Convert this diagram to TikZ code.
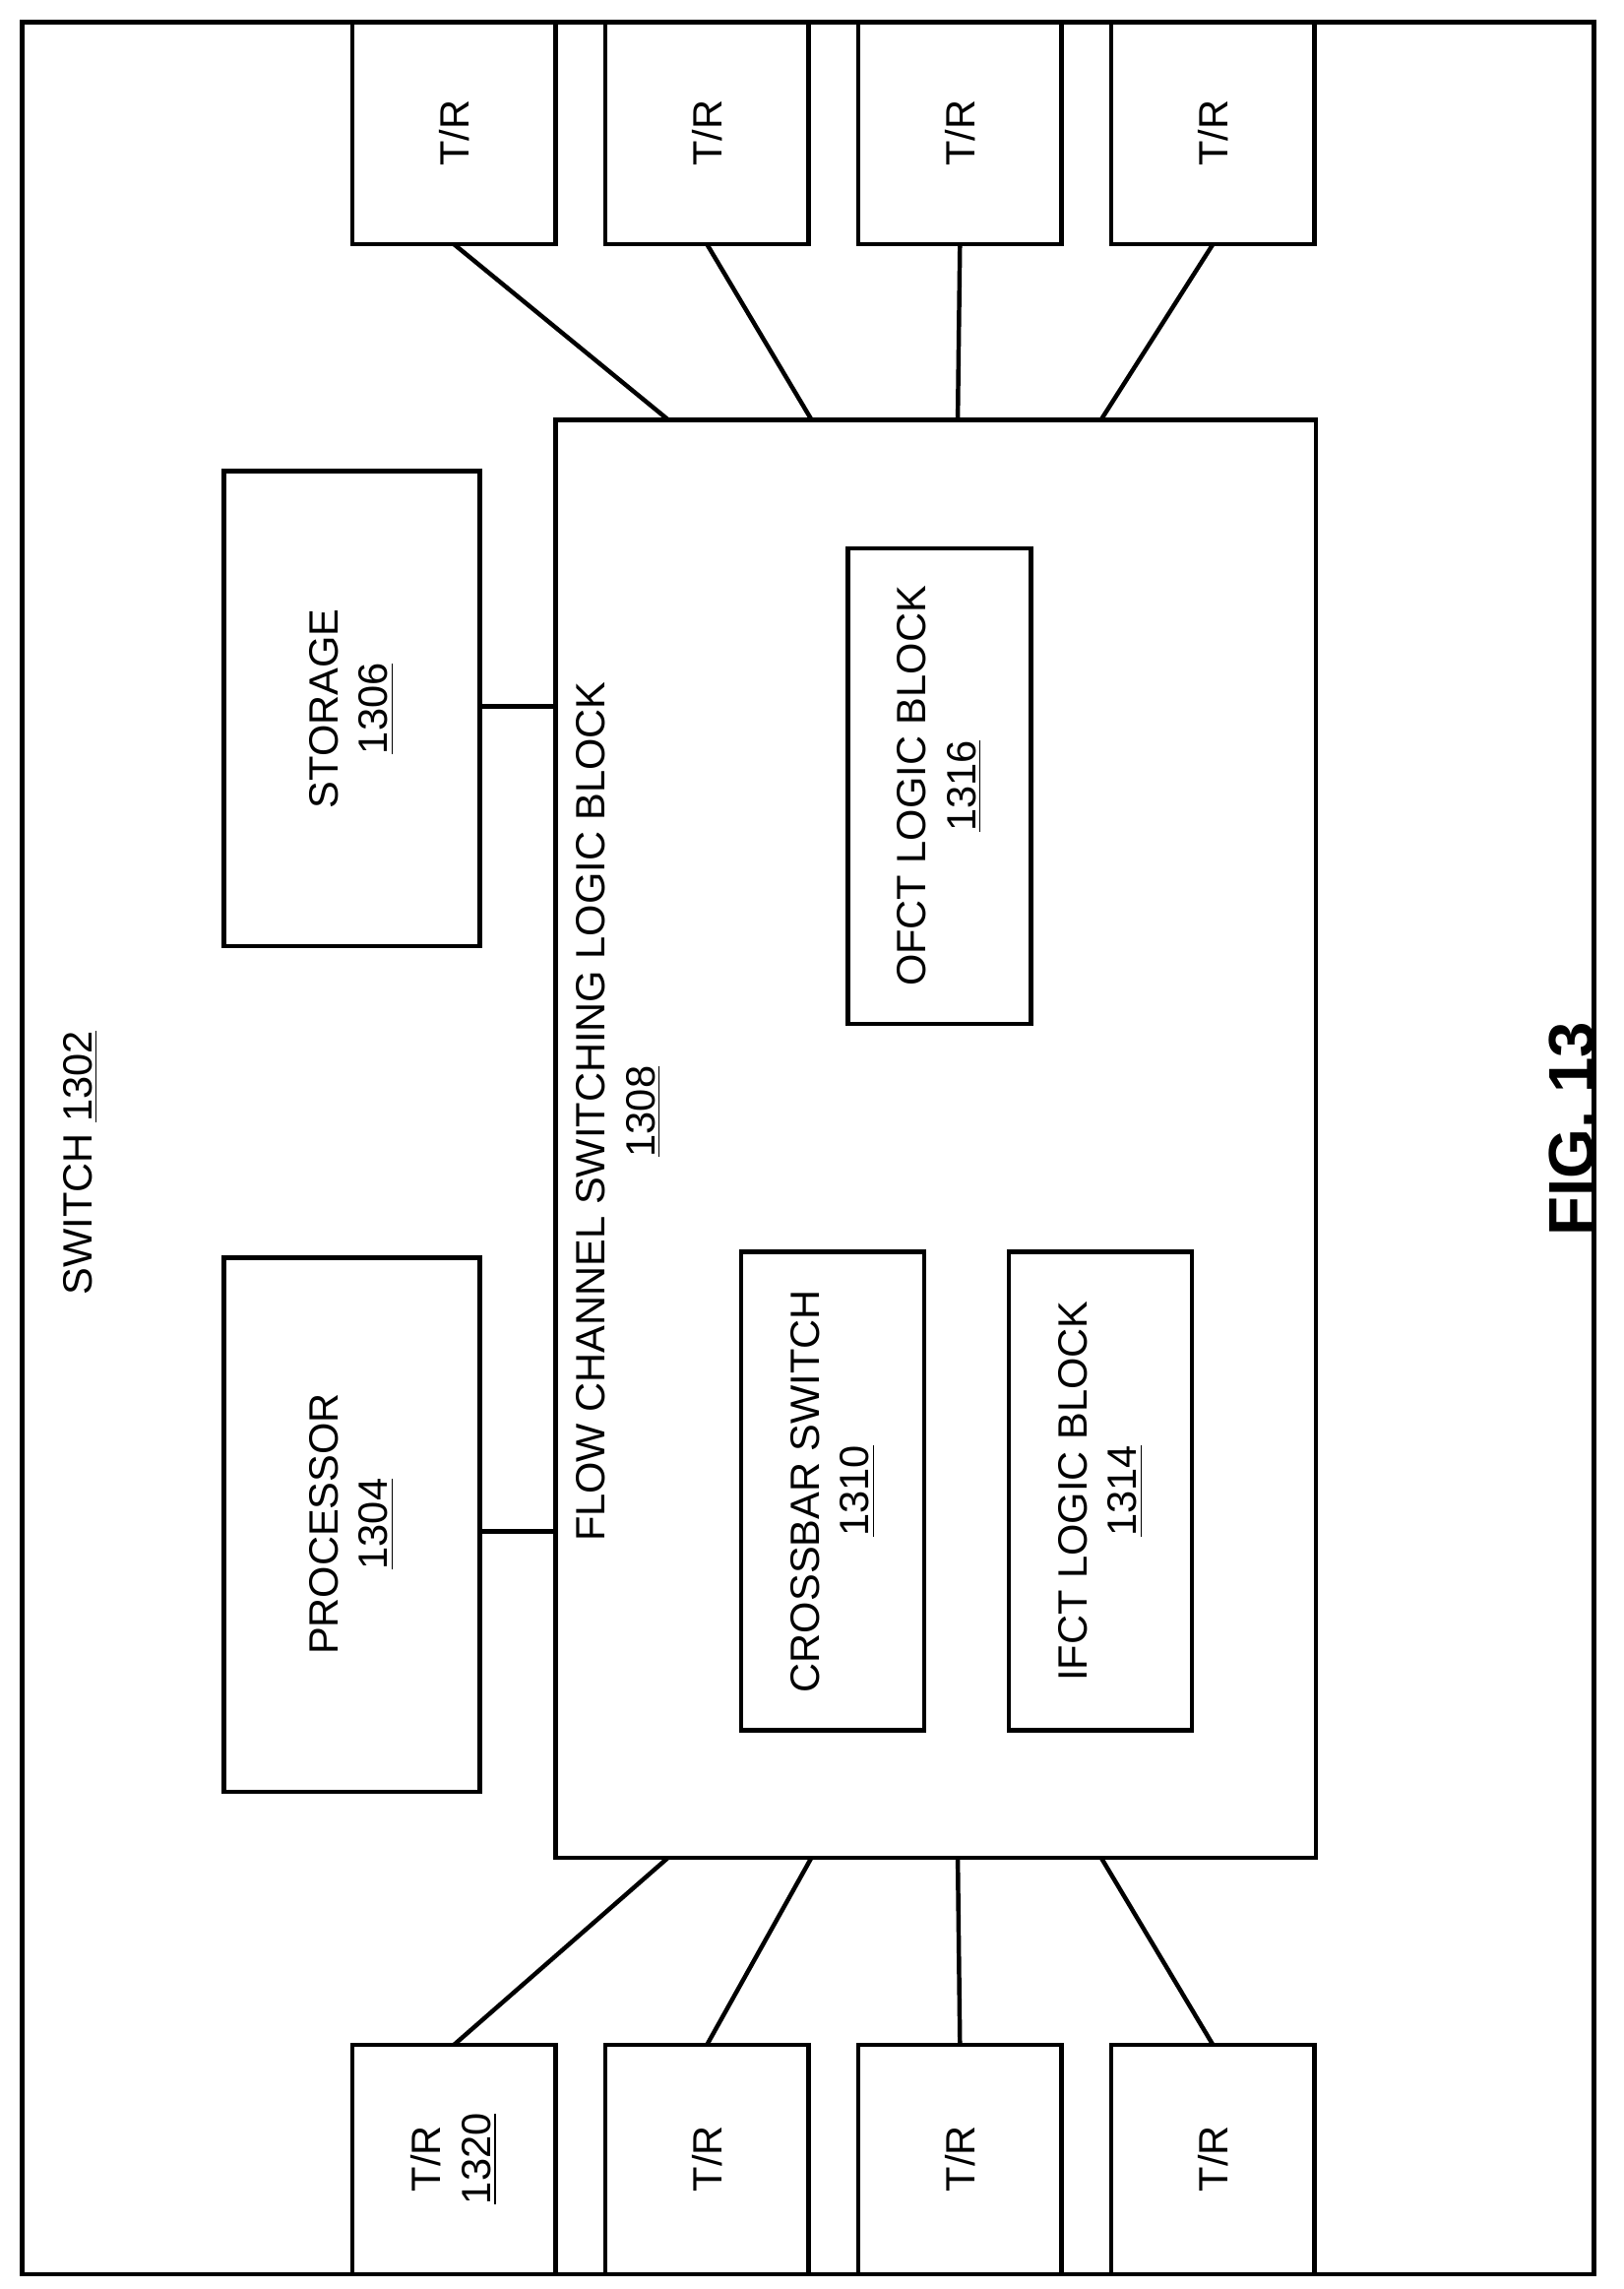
\documentclass[tikz,border=0pt]{standalone}
\usepackage{fontspec}
\setmainfont{Liberation Sans}
\begin{document}
\begin{tikzpicture}[x=0.5pt,y=-0.5pt,line width=1.5pt,
  lbl/.style={rotate=90,font=\fontsize{14}{17}\selectfont,align=center,inner sep=0pt},
  box/.style={draw}]
\useasboundingbox (0,0) rectangle (1110,1565);
\draw (15,15) rectangle (1090,1555);
\foreach \i/\x in {1/241,2/414,3/587,4/760}{
  \draw (\x,15) rectangle (\x+139,167);
  \draw (\x,1398) rectangle (\x+139,1555);
  \node[lbl] (tt\i) at (\x+69.5,91) {T/R};
  \coordinate (tb\i) at (\x+69.5,167);
  \coordinate (bt\i) at (\x+69.5,1398);
}
\node[lbl] (bb1) at (310.5,1476) {T/R\\\underline{1320}};
\foreach \i/\x in {2/414,3/587,4/760}{\node[lbl] (bb\i) at (\x+69.5,1476) {T/R};}
\draw (380,287) rectangle (900,1270);
\coordinate (m1) at (457,287); \coordinate (m2) at (555,287); \coordinate (m3) at (655,287); \coordinate (m4) at (753,287);
\coordinate (n1) at (457,1270); \coordinate (n2) at (555,1270); \coordinate (n3) at (655,1270); \coordinate (n4) at (753,1270);
\foreach \i in {1,...,4}{\draw (tb\i) -- (m\i); \draw (bt\i) -- (n\i);}
\draw (153,322) rectangle (328,647);
\node[lbl] (sto) at (240.5,484.5) {STORAGE\\\underline{1306}};
\draw (153,860) rectangle (328,1225);
\node[lbl] (pro) at (240.5,1042) {PROCESSOR\\\underline{1304}};
\coordinate (sa) at (328,483); \coordinate (sb) at (380,483);
\coordinate (pa) at (328,1047); \coordinate (pb) at (380,1047);
\draw (sa) -- (sb); \draw (pa) -- (pb);
\draw (507,856) rectangle (632,1183);
\node[lbl] (cb) at (569.5,1019.5) {CROSSBAR SWITCH\\\underline{1310}};
\draw (690,856) rectangle (815,1183);
\node[lbl] (if) at (752.5,1019.5) {IFCT LOGIC BLOCK\\\underline{1314}};
\draw (580,375) rectangle (705,700);
\node[lbl] (of) at (642.5,537.5) {OFCT LOGIC BLOCK\\\underline{1316}};
\node[lbl] (fc) at (423,760) {FLOW CHANNEL SWITCHING LOGIC BLOCK\\\underline{1308}};
\node[lbl] (sw) at (55,795) {SWITCH \underline{1302}};
\node[lbl,font=\fontsize{22}{26}\selectfont\bfseries] (fig) at (1075,772) {FIG. 13};
\end{tikzpicture}
\end{document}
